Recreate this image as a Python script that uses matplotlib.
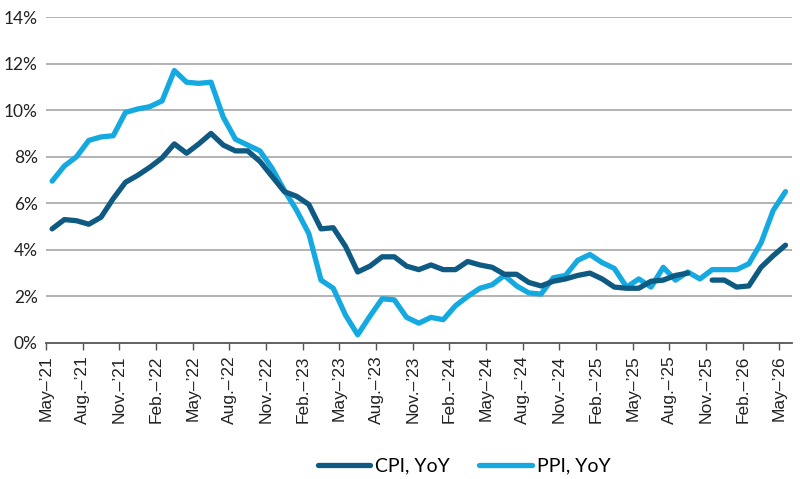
import matplotlib.pyplot as plt
import numpy as np

# monthly year-over-year rates, May 2021 .. May 2026 (CPI missing for Oct 2025)
cpi = [4.9, 5.3, 5.25, 5.1, 5.4, 6.2, 6.9, 7.2, 7.55, 7.95,
       8.55, 8.15, 8.55, 9.0, 8.5, 8.25, 8.25, 7.8, 7.15, 6.5,
       6.3, 5.95, 4.9, 4.95, 4.15, 3.05, 3.3, 3.7, 3.7, 3.3,
       3.15, 3.35, 3.15, 3.15, 3.5, 3.35, 3.25, 2.95, 2.95, 2.6,
       2.45, 2.65, 2.75, 2.9, 3.0, 2.75, 2.4, 2.35, 2.35, 2.65,
       2.7, 2.9, 3.0, np.nan, 2.7, 2.7, 2.4, 2.45, 3.25, 3.75,
       4.2]
ppi = [6.95, 7.6, 8.0, 8.7, 8.85, 8.9, 9.9, 10.05, 10.15, 10.4,
       11.7, 11.2, 11.15, 11.2, 9.7, 8.75, 8.5, 8.25, 7.5, 6.55,
       5.7, 4.7, 2.7, 2.35, 1.2, 0.35, 1.15, 1.9, 1.85, 1.1,
       0.85, 1.1, 1.0, 1.6, 2.0, 2.35, 2.5, 2.9, 2.45, 2.15,
       2.1, 2.8, 2.9, 3.55, 3.8, 3.45, 3.2, 2.4, 2.75, 2.4,
       3.25, 2.7, 3.05, 2.75, 3.15, 3.15, 3.15, 3.4, 4.3, 5.7,
       6.5]

tick_months = ["May", "Aug.", "Nov.", "Feb."]
first_year = 21
yticks = [0, 2, 4, 6, 8, 10, 12, 14]

dark = "#0e5a82"
light = "#14a9e0"

n = len(cpi)
x = np.arange(n)

tick_pos = np.arange(0, n, 3)
tick_labels = []
for k, pos in enumerate(tick_pos):
    month = tick_months[k % 4]
    year = first_year + (pos + 4) // 12
    tick_labels.append(f"{month}\u2013\u2019{year}")

fig = plt.figure(figsize=(8, 4.79), dpi=100)
ax = fig.add_axes([0.0575, 0.284, 0.932, 0.6805])

for y in yticks[1:]:
    ax.axhline(y, color="#a6a6a6", lw=1.2, zorder=1)

ax.plot(x, cpi, color=dark, lw=3.8, solid_capstyle="round",
        solid_joinstyle="round", label="CPI, YoY", zorder=3)
ax.plot(x, ppi, color=light, lw=3.8, solid_capstyle="round",
        solid_joinstyle="round", label="PPI, YoY", zorder=2)

ax.set_xlim(-0.5, n - 0.5)
ax.set_ylim(0, 14)

ax.set_yticks(yticks)
ax.set_yticklabels([f"{v}%" for v in yticks], family="Lato", fontsize=12.5,
                   color="#222222")
ax.tick_params(axis="y", length=0, pad=6)

ax.set_xticks(tick_pos - 0.5)
ax.set_xticklabels(tick_labels, rotation=90, family="Liberation Sans",
                   fontsize=12.5, color="#222222")
ax.tick_params(axis="x", length=5, width=1, color="#555555", pad=4)

for side in ["left", "right", "top"]:
    ax.spines[side].set_visible(False)
ax.spines["bottom"].set_color("#555555")
ax.spines["bottom"].set_linewidth(1.3)

fig.legend(loc="center", bbox_to_anchor=(0.58, 0.027), ncol=2,
           frameon=False, prop={"family": "Lato", "size": 14},
           handlelength=2.7, handletextpad=0.25, columnspacing=1.5)

fig.savefig("out.png", dpi=100)
